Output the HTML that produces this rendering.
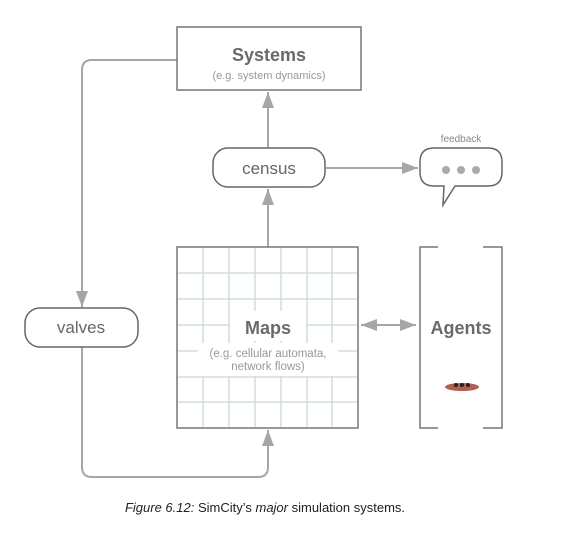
<!DOCTYPE html>
<html><head><style>
body{margin:0;background:#fff;width:569px;height:544px;overflow:hidden}
svg text{font-family:"Liberation Sans",sans-serif}
</style></head><body>
<svg width="569" height="544" viewBox="0 0 569 544">
<defs>
<marker id="b" viewBox="0 0 16 12" markerWidth="16" markerHeight="12" refX="16" refY="6" orient="auto-start-reverse" markerUnits="userSpaceOnUse"><path d="M0,0 L16,6 L0,12 Z" fill="#a6a6a6"/></marker>
</defs>
<g stroke="#a6a6a6" stroke-width="2" fill="none">
<path d="M177,60 H92 Q82,60 82,70 V307" marker-end="url(#b)"/>
<path d="M82,347 V467 Q82,477 92,477 H258 Q268,477 268,467 V430" marker-end="url(#b)"/>
<path d="M268,148 V92" marker-end="url(#b)"/>
<path d="M268,247 V189" marker-end="url(#b)"/>
<path d="M326,168 H418" marker-end="url(#b)"/>
<path d="M361,325 H416" marker-start="url(#b)" marker-end="url(#b)"/>
</g>
<g stroke="#c8d8dc" stroke-width="1.3">
<path d="M203,248V427M229,248V427M255,248V427M281,248V427M307,248V427M332,248V427M178,273H357M178,299H357M178,325H357M178,351H357M178,377H357M178,402H357"/>
</g>
<rect x="230" y="311" width="76" height="30" fill="#fff"/>
<rect x="198" y="343" width="140" height="33" fill="#fff"/>
<rect x="177" y="247" width="181" height="181" fill="none" stroke="#777" stroke-width="1.5"/>
<text x="268" y="334" text-anchor="middle" font-size="18" font-weight="bold" fill="#6a6a6a">Maps</text>
<text x="268" y="357" text-anchor="middle" font-size="11.5" fill="#999">(e.g. cellular automata,</text>
<text x="268" y="370" text-anchor="middle" font-size="11.5" fill="#999">network flows)</text>
<rect x="177" y="27" width="184" height="63" fill="#fff" stroke="#777" stroke-width="1.5"/>
<text x="269" y="61" text-anchor="middle" font-size="18" font-weight="bold" fill="#6a6a6a">Systems</text>
<text x="269" y="79" text-anchor="middle" font-size="11" fill="#999">(e.g. system dynamics)</text>
<rect x="213" y="148" width="112" height="39" rx="15" fill="#fff" stroke="#666" stroke-width="1.5"/>
<text x="269" y="174" text-anchor="middle" font-size="17" fill="#666">census</text>
<rect x="25" y="308" width="113" height="39" rx="15" fill="#fff" stroke="#666" stroke-width="1.5"/>
<text x="81" y="333" text-anchor="middle" font-size="17" fill="#666">valves</text>
<path d="M434,148 H488 Q502,148 502,162 V172 Q502,186 488,186 H455 L443,205 L444,186 H434 Q420,186 420,172 V162 Q420,148 434,148 Z" fill="#fff" stroke="#666" stroke-width="1.5"/>
<circle cx="446" cy="170" r="4" fill="#aaa"/><circle cx="461" cy="170" r="4" fill="#aaa"/><circle cx="476" cy="170" r="4" fill="#aaa"/>
<text x="461" y="142" text-anchor="middle" font-size="10" fill="#888">feedback</text>
<path d="M438,247 H420 V428 H438 M483,247 H502 V428 H483" fill="none" stroke="#777" stroke-width="1.5"/>
<text x="461" y="334" text-anchor="middle" font-size="18" font-weight="bold" fill="#6a6a6a">Agents</text>
<ellipse cx="462" cy="387" rx="17" ry="4" fill="#b06050"/>
<circle cx="456" cy="385" r="2" fill="#222"/><circle cx="462" cy="385" r="2" fill="#222"/><circle cx="468" cy="385" r="2" fill="#222"/>
<text x="265" y="512" text-anchor="middle" font-size="13" fill="#222"><tspan font-style="italic">Figure 6.12:</tspan> SimCity’s <tspan font-style="italic">major</tspan> simulation systems.</text>
</svg>
</body></html>
